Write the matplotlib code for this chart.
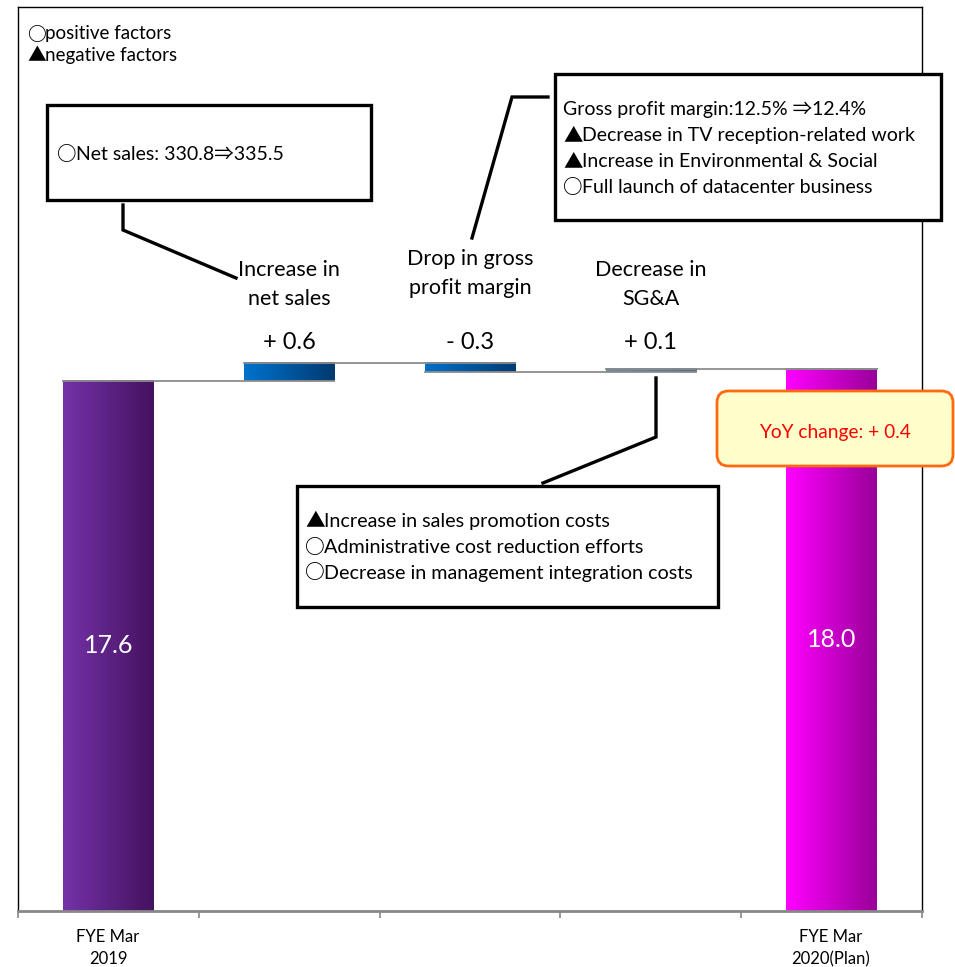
import numpy as np
import matplotlib.pyplot as plt
from matplotlib.patches import Rectangle, FancyBboxPatch
from matplotlib.lines import Line2D
from matplotlib.colors import LinearSegmentedColormap

# data
start_label = "FYE Mar\n2019"
end_label = "FYE Mar\n2020(Plan)"
start_value = 17.6
end_value = 18.0
step_names = ["Increase in\nnet sales", "Drop in gross\nprofit margin", "Decrease in\nSG&A"]
step_deltas = [0.6, -0.3, 0.1]
step_texts = ["+ 0.6", "- 0.3", "+ 0.1"]
yoy_text = "YoY change: + 0.4"

legend_lines = ["\u25cbpositive factors", "\u25b2negative factors"]
note_sales = ["\u25cbNet sales: 330.8\u21d2335.5"]
note_margin = ["Gross profit margin:12.5% \u21d212.4%",
               "\u25b2Decrease in TV reception-related work",
               "\u25b2Increase in Environmental & Social",
               "\u25cbFull launch of datacenter business"]
note_sga = ["\u25b2Increase in sales promotion costs",
            "\u25cbAdministrative cost reduction efforts",
            "\u25cbDecrease in management integration costs"]

W, H = 955, 967
plt.rcParams['font.family'] = ['Lato', 'Noto Sans CJK JP', 'DejaVu Sans']
SYM = ['Noto Sans CJK JP', 'DejaVu Sans']

fig = plt.figure(figsize=(W / 100, H / 100), dpi=100)
ax = fig.add_axes([18 / W, 1 - 911 / H, (922 - 18) / W, (911 - 7) / H])
renderer = fig.canvas.get_renderer()


def fx(x):
    return x / W


def fy(y):
    return 1 - y / H


def note_text(xp, yp, s, size, **kw):
    # leading marks (circle / triangle) drawn in the CJK font like the original
    if s[0] in "\u25cb\u25b2":
        t = fig.text(fx(xp), fy(yp), s[0], fontsize=size, va='center', family=SYM,
                     fontweight='bold', zorder=6, **kw)
        bb = t.get_window_extent(renderer=renderer)
        fig.text(fx(xp) + bb.width / W * 0.95, fy(yp), s[1:], fontsize=size, va='center', zorder=6, **kw)
    else:
        fig.text(fx(xp), fy(yp), s, fontsize=size, va='center', zorder=6, **kw)


# waterfall bottoms / heights
levels = [start_value]
for d in step_deltas:
    levels.append(levels[-1] + d)
bottoms = [0]
heights = [start_value]
for i, d in enumerate(step_deltas):
    bottoms.append(min(levels[i], levels[i + 1]))
    heights.append(abs(d))
bottoms.append(0)
heights.append(end_value)

x = np.arange(5) + 0.5
bw = 0.5
grads = [("#7432A8", "#45125F"), ("#0072CC", "#003A70"), ("#0070C8", "#003C74"),
         ("#6A8AAA", "#4E6E8E"), ("#FF00FF", "#990099")]

bars = ax.bar(x, heights, bw, bottom=bottoms, color='none', edgecolor='none', zorder=2)
for b, (c1, c2) in zip(bars, grads):
    x0, y0 = b.get_x(), b.get_y()
    w, h = b.get_width(), b.get_height()
    ramp = np.linspace(0, 1, 64)[None, :]
    cm = LinearSegmentedColormap.from_list("g", [c1, c2])
    ax.imshow(ramp, cmap=cm, extent=[x0, x0 + w, y0, y0 + h], aspect='auto',
              interpolation='bilinear', zorder=2)

# connector lines
conn = [start_value] + levels[1:]
for i in range(4):
    ax.plot([x[i] - bw / 2, x[i + 1] + bw / 2], [conn[i], conn[i]],
            color='#8C8C8C', lw=1.3, zorder=3)
ax.plot([x[4] - bw / 2, x[4] + bw / 2], [end_value, end_value], color='#8C8C8C', lw=1.3, zorder=3)

# value labels inside end bars
ax.text(x[0], start_value / 2, f"{start_value:.1f}", color='white', ha='center', va='center', fontsize=18)
ax.text(x[4], end_value / 2, f"{end_value:.1f}", color='white', ha='center', va='center', fontsize=18)

# step labels
label_y = [18.88, 18.88, 18.88]
name_y = [20.8, 21.15, 20.8]
for i in range(3):
    ax.text(x[i + 1], label_y[i], step_texts[i], ha='center', va='center', fontsize=17)
    ax.text(x[i + 1], name_y[i], step_names[i], ha='center', va='center', fontsize=15.5,
            linespacing=1.55)

ax.set_xlim(0, 5)
ax.set_ylim(0, 30)
ax.set_yticks([])
ax.set_xticks([0, 1, 2, 3, 4, 5])
ax.set_xticklabels([])
ax.tick_params(axis='x', length=5, color='#888888', width=1.2)
for s in ['left', 'top', 'right']:
    ax.spines[s].set_linewidth(1.0)
    ax.spines[s].set_color('black')
ax.spines['bottom'].set_color('#888888')
ax.spines['bottom'].set_linewidth(2.0)

for xp, lab in [(108, start_label), (831, end_label)]:
    l1, l2 = lab.split("\n")
    fig.text(fx(xp), fy(937), l1, ha='center', va='center', fontsize=12)
    fig.text(fx(xp), fy(959), l2, ha='center', va='center', fontsize=12)

# legend
note_text(27, 34, legend_lines[0], 13.5)
note_text(27, 56, legend_lines[1], 13.5)


def box(x0, y0, x1, y1):
    fig.add_artist(Rectangle((fx(x0), fy(y1)), fx(x1) - fx(x0), fy(y0) - fy(y1),
                             transform=fig.transFigure, facecolor='white',
                             edgecolor='black', lw=2.4, zorder=5))


def line(pts):
    xs = [fx(p[0]) for p in pts]
    ys = [fy(p[1]) for p in pts]
    fig.add_artist(Line2D(xs, ys, transform=fig.transFigure, color='black', lw=2.4,
                          zorder=5, solid_joinstyle='miter'))


# net sales note
box(47, 105, 371, 200)
note_text(57, 155, note_sales[0], 14)
line([(123, 205), (123, 230), (236, 278)])

# gross margin note
box(555, 74, 941, 220)
for i, t in enumerate(note_margin):
    note_text(563, 110 + 25.7 * i, t, 14)
line([(548, 97), (512, 97), (472, 238)])

# SG&A note
box(297, 486, 718, 607)
for i, t in enumerate(note_sga):
    note_text(305, 522 + 25.5 * i, t, 14.2)
line([(656, 378), (656, 437), (543, 483)])

# YoY box
fig.add_artist(FancyBboxPatch((fx(717), fy(466)), fx(953) - fx(717), fy(391) - fy(466),
                              boxstyle="round,pad=0,rounding_size=0.012",
                              transform=fig.transFigure, facecolor='#FFFFCC',
                              edgecolor='#FF6A10', lw=2.0, zorder=5))
fig.text(fx(835), fy(433), yoy_text, color='#FF0000', fontsize=13.8, ha='center',
         va='center', zorder=6)

fig.savefig('out.png', dpi=100)
